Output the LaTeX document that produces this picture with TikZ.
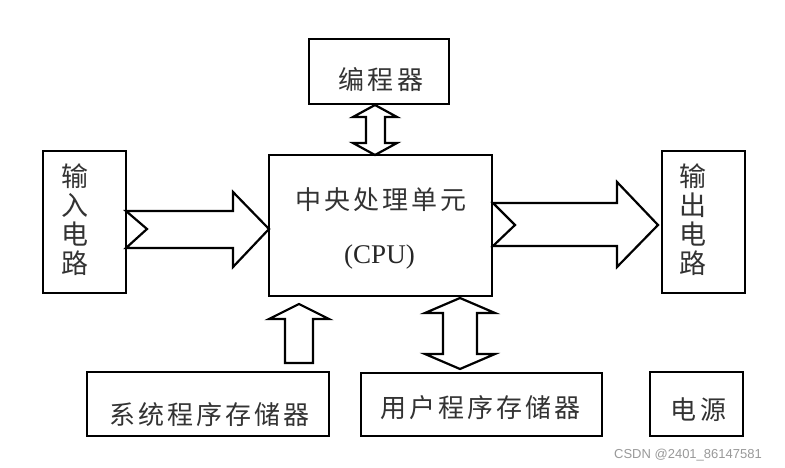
\documentclass[tikz,border=0pt]{standalone}
\usepackage{fontspec}
\usetikzlibrary{calc}
\newfontfamily\cjk[LetterSpace=12]{Noto Sans CJK SC}
\newfontfamily\cjkv{Noto Sans CJK SC}
\newfontfamily\serifen{Liberation Serif}
\newfontfamily\wmfont{Liberation Sans}
\begin{document}
\begin{tikzpicture}[x=1pt,y=-1pt,
  box/.style={draw=black, line width=2.4pt, rectangle, inner sep=0pt, outer sep=0pt},
  fat/.style={draw=black, line width=2.2pt, fill=white, line join=miter},
  lbl/.style={text=black!80, inner sep=0pt, font=\cjk\fontsize{26}{26}\selectfont},
  vlbl/.style={text=black!80, inner sep=0pt, align=center, font=\cjkv\fontsize{27}{29}\selectfont}]
\useasboundingbox (0,0) rectangle (785,468);
\fill[white] (0,0) rectangle (785,468);

% boxes
\node[box, minimum width=83, minimum height=142] (in) at (84.5,222) {};
\node[box, minimum width=223, minimum height=141] (cpu) at (380.5,225.5) {};
\node[box, minimum width=83, minimum height=142] (out) at (703.5,222) {};
\node[box, minimum width=140, minimum height=65] (prog) at (379,71.5) {};
\node[box, minimum width=242, minimum height=64] (sys) at (208,404) {};
\node[box, minimum width=241, minimum height=63] (usr) at (481.5,404.5) {};
\node[box, minimum width=93, minimum height=64] (pwr) at (696.5,404) {};

% labels
\node[vlbl] (inT) at (75,220) {输\\入\\电\\路};
\node[vlbl] (outT) at (693,220) {输\\出\\电\\路};
\node[lbl] (cpuT) at (381,200) {中央处理单元};
\node[text=black!85, inner sep=0pt, font=\serifen\fontsize{27}{27}\selectfont] (cpuE) at (379.5,257) {(CPU)};
\node[lbl] (progT) at (381,80) {编程器};
\node[lbl] (sysT) at (209.5,415) {系统程序存储器};
\node[lbl] (usrT) at (480.5,408) {用户程序存储器};
\node[lbl] (pwrT) at (698.5,410) {电源};
\node[text=black!40, inner sep=0pt, font=\wmfont\fontsize{13}{13}\selectfont] (wm) at (688,455) {CSDN @2401\_86147581};

% input fat arrow
\draw[fat] ($(in.east)+(0,-11)$) -- ($(cpu.west)+(-36,-14.5)$) -- ($(cpu.west)+(-36,-33.5)$)
  -- ($(cpu.west)+(0,3.5)$) -- ($(cpu.west)+(-36,41.5)$) -- ($(cpu.west)+(-36,22.5)$)
  -- ($(in.east)+(0,26)$) -- ($(in.east)+(21,7)$) -- cycle;

% output fat arrow
\draw[fat] ($(cpu.east)+(1,-22.5)$) -- ($(out.west)+(-45,-19)$) -- ($(out.west)+(-45,-40)$)
  -- ($(out.west)+(-4,3)$) -- ($(out.west)+(-45,45)$) -- ($(out.west)+(-45,24)$)
  -- ($(cpu.east)+(1,20.5)$) -- ($(cpu.east)+(23,-0.5)$) -- cycle;

% programmer <-> cpu double arrow
\draw[fat] ($(prog.south)+(-4,1)$) -- ($(prog.south)+(18,13)$) -- ($(prog.south)+(6,13)$)
  -- ($(cpu.north)+(4.5,-12)$) -- ($(cpu.north)+(16.5,-12)$) -- ($(cpu.north)+(-5.5,0)$)
  -- ($(cpu.north)+(-27.5,-12)$) -- ($(cpu.north)+(-14.5,-12)$)
  -- ($(prog.south)+(-13,13)$) -- ($(prog.south)+(-26,13)$) -- cycle;

% system memory -> cpu arrow
\draw[fat] ($(sys.north)+(91,-68)$) -- ($(sys.north)+(121,-53)$) -- ($(sys.north)+(105,-53)$)
  -- ($(sys.north)+(105,-9)$) -- ($(sys.north)+(77,-9)$) -- ($(sys.north)+(77,-53)$)
  -- ($(sys.north)+(61,-53)$) -- cycle;

% user memory <-> cpu double arrow
\draw[fat] ($(cpu.south)+(79.5,2)$) -- ($(cpu.south)+(114.5,17)$) -- ($(cpu.south)+(96.5,17)$)
  -- ($(usr.north)+(-4.5,-19)$) -- ($(usr.north)+(13.5,-19)$) -- ($(usr.north)+(-21.5,-4)$)
  -- ($(usr.north)+(-56.5,-19)$) -- ($(usr.north)+(-38.5,-19)$)
  -- ($(cpu.south)+(62.5,17)$) -- ($(cpu.south)+(44.5,17)$) -- cycle;
\end{tikzpicture}
\end{document}
